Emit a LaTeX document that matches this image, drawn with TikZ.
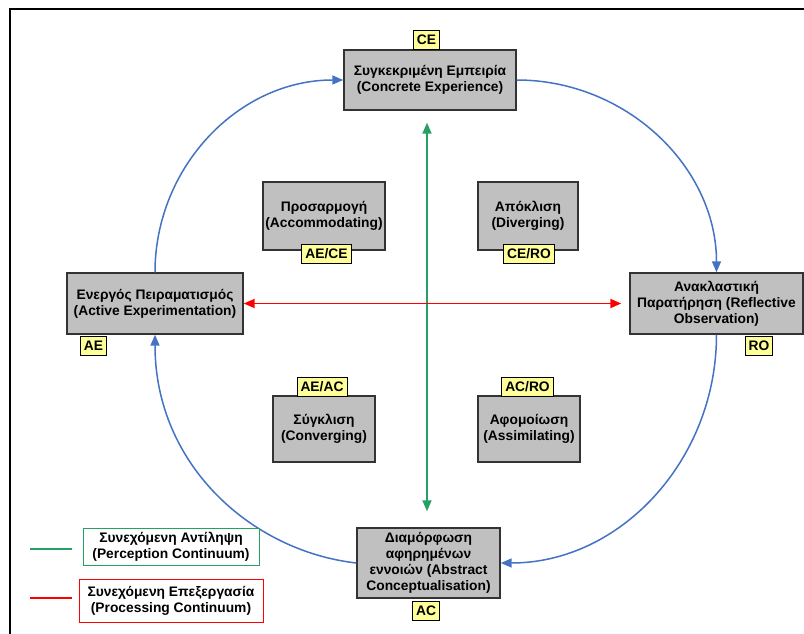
\documentclass[tikz,border=0pt]{standalone}
\usepackage{fontspec}
\setmainfont{Liberation Sans}
\usetikzlibrary{arrows.meta}
\definecolor{boxgrey}{RGB}{192,192,192}
\definecolor{boxedge}{RGB}{51,51,51}
\definecolor{tagyellow}{RGB}{255,255,153}
\definecolor{cycleblue}{RGB}{68,114,196}
\definecolor{percgreen}{RGB}{38,160,100}
\definecolor{procred}{RGB}{255,0,0}
\begin{document}
\begin{tikzpicture}[x=1pt,y=-1pt,
  every node/.style={font=\fontsize{13.8}{16}\selectfont\bfseries, align=center, inner sep=0pt},
  stage/.style={draw=boxedge, fill=boxgrey, line width=1.4pt},
  tag/.style={draw=black, fill=tagyellow, line width=0.9pt, minimum height=19pt, inner xsep=3.5pt},
  cycle/.style={draw=cycleblue, line width=1.5pt, -{Triangle[length=11pt,width=9pt]}},
  continuum/.style={line width=1.8pt, {Triangle[length=11pt,width=9pt]}-{Triangle[length=11pt,width=9pt]}},
  legendbox/.style={fill=white, line width=1pt, minimum height=37pt},
]
\useasboundingbox (0,0) rectangle (804,634);
\fill[white] (0,0) rectangle (804,634);
% outer frame
\draw[line width=2pt] (10,634) -- (10,9) -- (804,9);

% the four stages of the cycle
\node[stage, minimum width=172pt, minimum height=60pt] (ce) at (430,80)
  {Συγκεκριμένη Εμπειρία\\(Concrete Experience)};
\node[stage, minimum width=173pt, minimum height=61pt] (ro) at (716.5,303.5)
  {Ανακλαστική\\Παρατήρηση (Reflective\\Observation)};
\node[stage, minimum width=143pt, minimum height=70pt] (ac) at (428.5,563)
  {Διαμόρφωση\\αφηρημένων\\εννοιών (Abstract\\Conceptualisation)};
\node[stage, minimum width=176pt, minimum height=61pt] (ae) at (155,303.5)
  {Ενεργός Πειραματισμός\\(Active Experimentation)};

% the four learning styles
\node[stage, minimum width=122pt, minimum height=68pt] (acc) at (324,216)
  {Προσαρμογή\\(Accommodating)};
\node[stage, minimum width=100pt, minimum height=68pt] (div) at (528,216)
  {Απόκλιση\\(Diverging)};
\node[stage, minimum width=102pt, minimum height=66pt] (conv) at (324,429)
  {Σύγκλιση\\(Converging)};
\node[stage, minimum width=102pt, minimum height=66pt] (assim) at (529,429)
  {Αφομοίωση\\(Assimilating)};

% tags
\node[tag] (cetag) at (426.5,39.5) {CE};
\node[tag] (rotag) at (759,345.5) {RO};
\node[tag] (actag) at (426,610.5) {AC};
\node[tag] (aetag) at (93.5,345.5) {AE};
\node[tag] (acctag) at (326.5,253.5) {AE/CE};
\node[tag] (divtag) at (529,253.5) {CE/RO};
\node[tag] (convtag) at (322,387) {AE/AC};
\node[tag] (assimtag) at (527.5,387) {AC/RO};

% the learning cycle
\draw[cycle] (ce.east) .. controls +(110,0) and +(0,-105) .. (ro.north);
\draw[cycle] (ro.south) .. controls +(0,125) and +(120,0) .. (ac.east);
\draw[cycle] (ac.west) .. controls +(-105,-12) and +(0,130) .. (ae.south);
\draw[cycle] (ae.north) .. controls +(0,-105) and +(-105,0) .. (ce.west);

% the two continua
\draw[continuum, draw=percgreen, fill=percgreen, shorten <=12pt, shorten >=16pt]
  ([xshift=-3pt]ce.south) -- ([xshift=-1.5pt]ac.north);
\draw[continuum, draw=procred, fill=procred, shorten >=8pt] (ae.east) -- (ro.west);

% legend
\node[legendbox, draw=percgreen, minimum width=176pt] (lgperc) at (171,546.5)
  {Συνεχόμενη Αντίληψη\\(Perception Continuum)};
\node[legendbox, draw=procred, minimum width=184pt, minimum height=43pt] (lgproc) at (171,600.5)
  {Συνεχόμενη Επεξεργασία\\(Processing Continuum)};
\coordinate (gla) at (30,549);
\coordinate (glb) at (72,549);
\coordinate (rla) at (30,598);
\coordinate (rlb) at (72,598);
\draw[percgreen, line width=1.8pt] (gla) -- (glb);
\draw[procred, line width=1.8pt] (rla) -- (rlb);
\end{tikzpicture}
\end{document}
